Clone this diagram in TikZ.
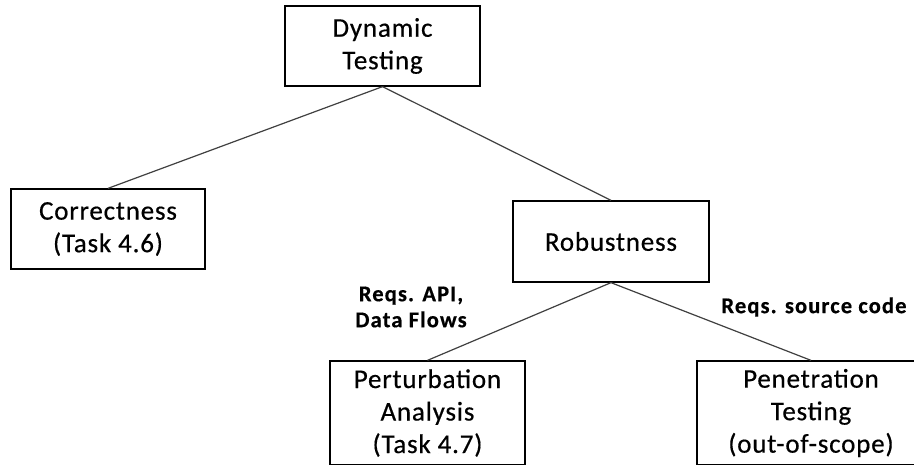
\documentclass[tikz,border=0pt]{standalone}
\usepackage{fontspec}
\setmainfont{Carlito}[LetterSpace=3, FakeBold=0.5]
\begin{document}
\begin{tikzpicture}[x=1pt,y=-1pt,
  box/.style={draw=black, line width=1.3pt, align=center, inner sep=0pt,
    font=\fontsize{27}{32.5}\selectfont},
  link/.style={draw=black!75, line width=1.2pt},
  lbl/.style={align=center, inner sep=0pt,
    font=\bfseries\fontsize{22.5}{26}\selectfont\addfontfeature{LetterSpace=5}}]
  % page frame
  \useasboundingbox (0,0) rectangle (914,464);
  \clip (0,0) rectangle (914,464);
  \fill[white] (0,0) rectangle (914,464);

  % boxes of the tree
  \node[box, minimum width=195pt, minimum height=80pt] (dyn) at (382.5,46) {Dynamic\\Testing};
  \node[box, minimum width=194pt, minimum height=80pt] (cor) at (108,229) {Correctness\\(Task 4.6)};
  \node[box, minimum width=196pt, minimum height=81pt] (rob) at (611,241.5) {Robustness};
  \node[box, minimum width=195pt, minimum height=104pt] (per) at (427.5,413) {Perturbation\\Analysis\\(Task 4.7)};
  \node[box, minimum width=228pt, minimum height=104pt] (pen) at (811,413) {Penetration\\Testing\\(out-of-scope)};

  % branches
  \draw[link] (dyn.south) -- (cor.north);
  \draw[link] (dyn.south) -- (rob.north);
  \draw[link] (rob.south) -- (per.north);
  \draw[link] (rob.south) -- (pen.north);

  % branch notes
  \node[lbl] (napi) at (411,307) {Reqs. API,\\Data Flows};
  \node[lbl] (nsrc) at (814,307) {Reqs. source code};
\end{tikzpicture}
\end{document}
